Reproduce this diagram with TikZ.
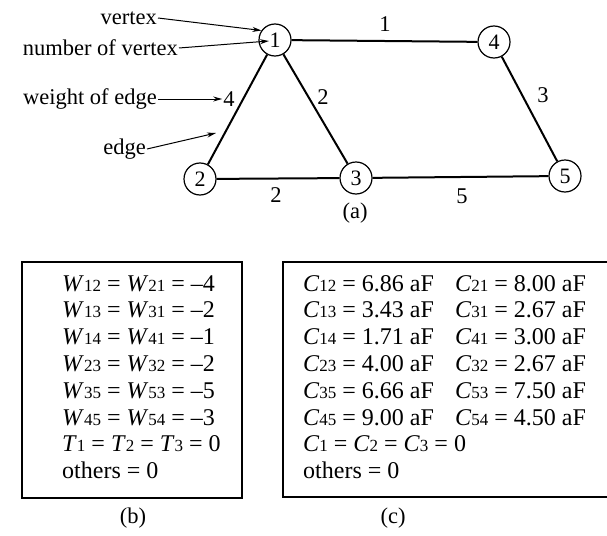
\documentclass[tikz,border=0pt]{standalone}
\usepackage{fontspec}
\setmainfont{Liberation Serif}
\usetikzlibrary{arrows.meta}
\newcommand\sbs[1]{{\fontsize{17}{17}\selectfont #1}}
\newcommand\vW[1]{\textit{W}\sbs{#1}}
\newcommand\vC[1]{\textit{C}\sbs{#1}}
\newcommand\vT[1]{\textit{T}\sbs{#1}}
\begin{document}
\begin{tikzpicture}[x=1pt,y=-1pt,
  vtx/.style={circle,draw,line width=1.2pt,minimum size=32pt,inner sep=0pt,font=\fontsize{22}{22}\selectfont},
  edg/.style={line width=2pt},
  lbl/.style={font=\fontsize{22.5}{27}\selectfont,inner sep=1pt},
  ptr/.style={line width=1pt,-{Stealth[length=9pt,width=5pt]}},
  boxline/.style={font=\fontsize{24}{27}\selectfont,anchor=base west,inner sep=0pt},
  frame/.style={line width=1.5pt}]
\useasboundingbox (0,0) rectangle (607,535);

% vertices
\node[vtx] (v1) at (275,40) {1};
\node[vtx] (v2) at (200,179) {2};
\node[vtx] (v3) at (356,178) {3};
\node[vtx] (v4) at (494,42) {4};
\node[vtx] (v5) at (565,176) {5};

% edges
\draw[edg] (v1) -- (v4);
\draw[edg] (v1) -- (v2);
\draw[edg] (v1) -- (v3);
\draw[edg] (v2) -- (v3);
\draw[edg] (v3) -- (v5);
\draw[edg] (v4) -- (v5);

% edge weights
\node[lbl] (l14) at (385,24) {1};
\node[lbl] (w4) at (229,99) {4};
\node[lbl] (l13) at (323,97) {2};
\node[lbl] (l45) at (543,95) {3};
\node[lbl] (l23) at (276,195) {2};
\node[lbl] (l35) at (462,196) {5};

% annotations
\node[lbl,anchor=east] (tv) at (158,18) {vertex};
\node[lbl,anchor=east] (tn) at (179,48) {number of vertex};
\node[lbl,anchor=east] (tw) at (158,99) {weight of edge};
\node[lbl,anchor=east] (te) at (147,149) {edge};
\coordinate (nvtip) at (269,41);
\coordinate (etip) at (216,133);
\draw[ptr] (tv.east) -- (v1.145);
\draw[ptr] (tn.east) -- (nvtip);
\draw[ptr] (tw.east) -- (w4.west);
\draw[ptr] (te.east) -- (etip);

\node[lbl] (capa) at (355,213) {(a)};

% box (b)
\draw[frame] (22,262) rectangle (242,498);
\foreach \t [count=\i from 0] in {
  {\vW{12} = \vW{21} = –4},
  {\vW{13} = \vW{31} = –2},
  {\vW{14} = \vW{41} = –1},
  {\vW{23} = \vW{32} = –2},
  {\vW{35} = \vW{53} = –5},
  {\vW{45} = \vW{54} = –3},
  {\vT{1} = \vT{2} = \vT{3} = 0},
  {others = 0}}
  \node[boxline] (bl\i) at (62,{291+26.8*\i}) {\t};
\node[lbl] (capb) at (133,518) {(b)};

% box (c)
\draw[frame] (612,262) -- (283,262) -- (283,497) -- (612,497);
\foreach \t [count=\i from 0] in {
  {\vC{12} = 6.86 aF},
  {\vC{13} = 3.43 aF},
  {\vC{14} = 1.71 aF},
  {\vC{23} = 4.00 aF},
  {\vC{35} = 6.66 aF},
  {\vC{45} = 9.00 aF},
  {\vC{1} = \vC{2} = \vC{3} = 0},
  {others = 0}}
  \node[boxline] (cl\i) at (303,{291+26.8*\i}) {\t};
\foreach \t [count=\i from 0] in {
  {\vC{21} = 8.00 aF},
  {\vC{31} = 2.67 aF},
  {\vC{41} = 3.00 aF},
  {\vC{32} = 2.67 aF},
  {\vC{53} = 7.50 aF},
  {\vC{54} = 4.50 aF}}
  \node[boxline] (cr\i) at (455,{291+26.8*\i}) {\t};
\node[lbl] (capc) at (393,518) {(c)};
\end{tikzpicture}
\end{document}
